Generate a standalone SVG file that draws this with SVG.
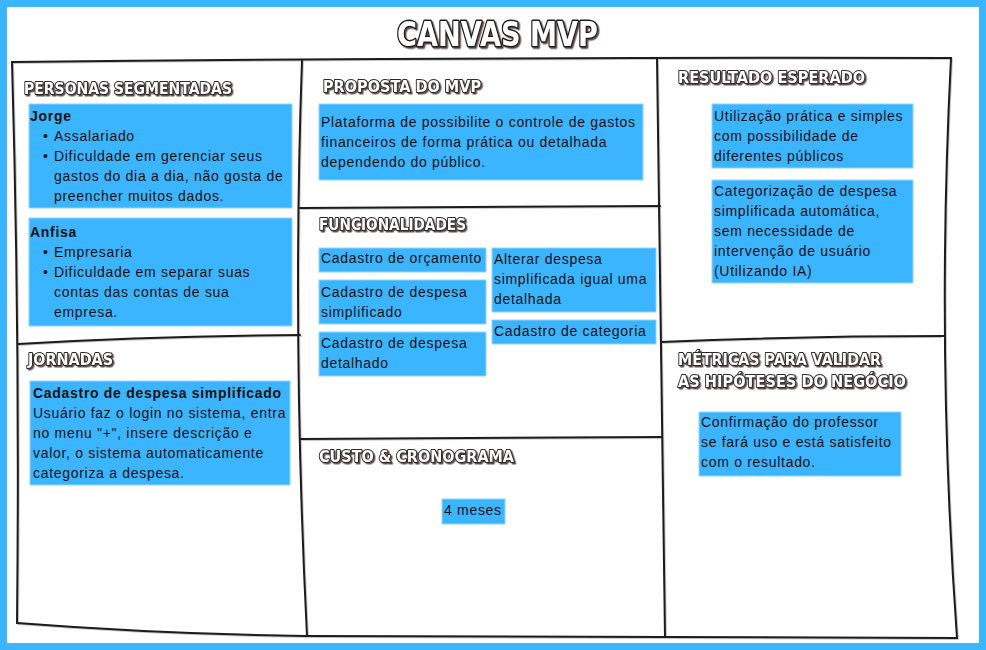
<svg xmlns="http://www.w3.org/2000/svg" width="986" height="650" viewBox="0 0 986 650">
<defs>
<filter id="sh" x="-5%" y="-20%" width="110%" height="150%">
<feDropShadow dx="1.5" dy="1.5" stdDeviation="0" flood-color="#5a5048" flood-opacity="1"/>
</filter>
<style>
.frame{fill:#ffffff;stroke:#3bb5ff;stroke-width:7}
.ln{fill:none;stroke:#1c1c1c;stroke-width:2;stroke-linecap:round}
.lsh{fill:none;stroke:#c8c8c8;stroke-width:2;stroke-linecap:round}
.b{fill:#3bb5ff;stroke:#92d6ff;stroke-width:1}
.t{font-family:"Liberation Sans",Arial,sans-serif;font-size:14px;letter-spacing:0.7px;fill:#111111}
.tb{font-family:"Liberation Sans",Arial,sans-serif;font-size:14px;letter-spacing:0.7px;fill:#111111;font-weight:bold}
.h{font-family:"DejaVu Sans",sans-serif;font-weight:bold;font-size:15px;fill:#ffffff;stroke:#2a2a2a;stroke-width:2;paint-order:stroke;stroke-linejoin:round;filter:url(#sh)}
.title{font-family:"DejaVu Sans",sans-serif;font-weight:bold;font-size:33px;fill:#ffffff;stroke:#1e1e1e;stroke-width:3;paint-order:stroke;stroke-linejoin:round;filter:url(#sh)}
</style>
</defs>
<rect class="frame" x="3.5" y="3.5" width="979" height="643"/>
<text id="title" class="title" x="397" y="46" textLength="201" lengthAdjust="spacingAndGlyphs">CANVAS MVP</text>
<g id="connectors">
<path class="lsh" d="M13,63 Q481,58 952,59 M952,59 Q937,349 958,639 M18,624 Q161,635 306,637 L666,638 L958,639 M13,63 Q21,341 18,624 M303,61 Q293,341 308,637 M658,60 Q663,341 666,638 M19,345 Q151,337 301,336 M301,209 L661,207 M301,440 L662,438 M662,343 Q801,337 941,337"/>
<path class="ln" d="M12,62 Q480,57 951,58"/>
<path class="ln" d="M951,58 Q936,348 957,638"/>
<path class="ln" d="M17,623 Q160,634 305,636 L665,637 L957,638"/>
<path class="ln" d="M12,62 Q20,340 17,623"/>
<path class="ln" d="M302,60 Q292,340 307,636"/>
<path class="ln" d="M657,59 Q662,340 665,637"/>
<path class="ln" d="M18,344 Q150,336 300,335"/>
<path class="ln" d="M300,208 L660,206"/>
<path class="ln" d="M300,439 L661,437"/>
<path class="ln" d="M661,342 Q800,336 944,336"/>
</g>
<g id="personas">
<text class="h" x="24" y="94" textLength="208" lengthAdjust="spacingAndGlyphs">PERSONAS SEGMENTADAS</text>
<g id="jorge">
<rect class="b" x="29" y="104" width="263" height="104"/>
<text class="tb" x="30" y="121">Jorge</text>
<text class="t" x="43" y="141">•</text>
<text class="t" x="54" y="141">Assalariado</text>
<text class="t" x="43" y="161">•</text>
<text class="t" x="54" y="161">Dificuldade em gerenciar seus</text>
<text class="t" x="54" y="181">gastos do dia a dia, não gosta de</text>
<text class="t" x="54" y="201">preencher muitos dados.</text>
</g>
<g id="anfisa">
<rect class="b" x="29" y="218" width="263" height="108"/>
<text class="tb" x="30" y="237">Anfisa</text>
<text class="t" x="43" y="257">•</text>
<text class="t" x="54" y="257">Empresaria</text>
<text class="t" x="43" y="277">•</text>
<text class="t" x="54" y="277">Dificuldade em separar suas</text>
<text class="t" x="54" y="297">contas das contas de sua</text>
<text class="t" x="54" y="317">empresa.</text>
</g>
</g>
<g id="jornadas">
<text class="h" x="28" y="365" textLength="85" lengthAdjust="spacingAndGlyphs">JORNADAS</text>
<g id="jornada1">
<rect class="b" x="30" y="381" width="260" height="104"/>
<text class="tb" x="33" y="398">Cadastro de despesa simplificado</text>
<text class="t" x="33" y="418">Usuário faz o login no sistema, entra</text>
<text class="t" x="33" y="438">no menu "+", insere descrição e</text>
<text class="t" x="33" y="458">valor, o sistema automaticamente</text>
<text class="t" x="33" y="478">categoriza a despesa.</text>
</g>
</g>
<g id="proposta">
<text class="h" x="323" y="92" textLength="158" lengthAdjust="spacingAndGlyphs">PROPOSTA DO MVP</text>
<g id="proposta1">
<rect class="b" x="319" y="104" width="324" height="76"/>
<text class="t" x="321" y="127">Plataforma de possibilite o controle de gastos</text>
<text class="t" x="321" y="147">financeiros de forma prática ou detalhada</text>
<text class="t" x="321" y="167">dependendo do público.</text>
</g>
</g>
<g id="funcionalidades">
<text class="h" x="319" y="230" textLength="147" lengthAdjust="spacingAndGlyphs">FUNCIONALIDADES</text>
<g id="f1">
<rect class="b" x="319" y="248" width="167" height="24"/>
<text class="t" x="321" y="263">Cadastro de orçamento</text>
</g>
<g id="f2">
<rect class="b" x="319" y="280" width="167" height="44"/>
<text class="t" x="321" y="297">Cadastro de despesa</text>
<text class="t" x="321" y="317">simplificado</text>
</g>
<g id="f3">
<rect class="b" x="319" y="332" width="167" height="44"/>
<text class="t" x="321" y="348">Cadastro de despesa</text>
<text class="t" x="321" y="368">detalhado</text>
</g>
<g id="f4">
<rect class="b" x="492" y="248" width="164" height="64"/>
<text class="t" x="494" y="264">Alterar despesa</text>
<text class="t" x="494" y="284">simplificada igual uma</text>
<text class="t" x="494" y="304">detalhada</text>
</g>
<g id="f5">
<rect class="b" x="492" y="320" width="164" height="24"/>
<text class="t" x="494" y="336">Cadastro de categoria</text>
</g>
</g>
<g id="custo">
<text class="h" x="319" y="462" textLength="195" lengthAdjust="spacingAndGlyphs">CUSTO &amp; CRONOGRAMA</text>
<g id="custo1">
<rect class="b" x="442" y="499" width="63" height="25"/>
<text class="t" x="444" y="515">4 meses</text>
</g>
</g>
<g id="resultado">
<text class="h" x="678" y="83" textLength="187" lengthAdjust="spacingAndGlyphs">RESULTADO ESPERADO</text>
<g id="r1">
<rect class="b" x="712" y="104" width="201" height="64"/>
<text class="t" x="714" y="121">Utilização prática e simples</text>
<text class="t" x="714" y="141">com possibilidade de</text>
<text class="t" x="714" y="161">diferentes públicos</text>
</g>
<g id="r2">
<rect class="b" x="712" y="180" width="201" height="103"/>
<text class="t" x="714" y="196">Categorização de despesa</text>
<text class="t" x="714" y="216">simplificada automática,</text>
<text class="t" x="714" y="236">sem necessidade de</text>
<text class="t" x="714" y="256">intervenção de usuário</text>
<text class="t" x="714" y="276">(Utilizando IA)</text>
</g>
</g>
<g id="metricas">
<text class="h" x="678" y="365" textLength="203" lengthAdjust="spacingAndGlyphs">MÉTRICAS PARA VALIDAR</text>
<text class="h" x="678" y="387" textLength="228" lengthAdjust="spacingAndGlyphs">AS HIPÓTESES DO NEGÓCIO</text>
<g id="m1">
<rect class="b" x="699" y="412" width="202" height="64"/>
<text class="t" x="701" y="427">Confirmação do professor</text>
<text class="t" x="701" y="447">se fará uso e está satisfeito</text>
<text class="t" x="701" y="467">com o resultado.</text>
</g>
</g>
</svg>
